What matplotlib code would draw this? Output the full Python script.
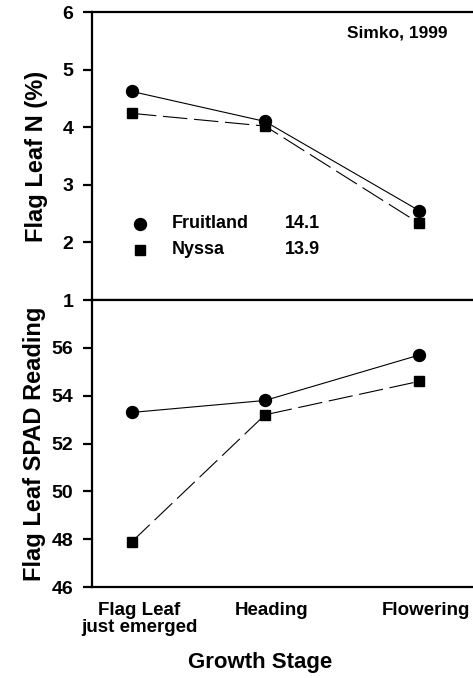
import matplotlib
matplotlib.use('Agg')
import matplotlib.pyplot as plt
import matplotlib.transforms as mtransforms

plt.rcParams['font.family'] = ['Liberation Sans', 'DejaVu Sans']
plt.rcParams['font.weight'] = 'bold'

stages = ['Flag Leaf\njust emerged', 'Heading', 'Flowering']
stage_pos = [1.0, 2.0, 3.16]

n_fruitland = [4.62, 4.10, 2.55]
n_nyssa = [4.24, 4.02, 2.33]
spad_fruitland = [53.3, 53.8, 55.7]
spad_nyssa = [47.9, 53.2, 54.6]

legend_names = ['Fruitland', 'Nyssa']
legend_values = ['14.1', '13.9']

fig = plt.figure(figsize=(4.73, 6.78), dpi=100)
ax_top = fig.add_axes([0.1945, 0.5575, 0.841, 0.4248])
ax_bot = fig.add_axes([0.1945, 0.1342, 0.841, 0.4233])

dash = (22, 6)
for ax in (ax_top, ax_bot):
    ax.set_xlim(0.699, 3.69)
    ax.spines['right'].set_visible(False)
    for s in ('left', 'top', 'bottom'):
        ax.spines[s].set_linewidth(1.6)
    ax.tick_params(axis='y', direction='out', length=6.5, width=1.6,
                   labelsize=14, pad=7)

ax_top.plot(stage_pos, n_fruitland, 'k-', lw=0.8, marker='o', ms=8.6)
ax_top.plot(stage_pos, n_nyssa, 'k', lw=0.8, dashes=dash, marker='s', ms=7.2)
ax_top.set_ylim(1, 6)
ax_top.set_yticks([1, 2, 3, 4, 5, 6])
ax_top.set_xticks([])
ax_top.set_ylabel('Flag Leaf N (%)', fontsize=17, fontweight='bold', labelpad=10)

ax_bot.plot(stage_pos, spad_fruitland, 'k-', lw=0.8, marker='o', ms=8.6)
ax_bot.plot(stage_pos, spad_nyssa, 'k', lw=0.8, dashes=dash, marker='s', ms=7.2)
ax_bot.set_ylim(46, 58)
ax_bot.set_yticks([46, 48, 50, 52, 54, 56])
ax_bot.set_xticks(stage_pos)
ax_bot.set_xticklabels(stages, fontsize=13.5, linespacing=0.95)
ax_bot.tick_params(axis='x', length=0, pad=11)
offset = mtransforms.ScaledTranslation(7 / 100, 0, fig.dpi_scale_trans)
for lab in ax_bot.get_xticklabels():
    lab.set_transform(lab.get_transform() + offset)
ax_bot.set_ylabel('Flag Leaf SPAD Reading', fontsize=17, fontweight='bold', labelpad=4)
ax_bot.set_xlabel('Growth Stage', fontsize=16, fontweight='bold')
ax_bot.xaxis.set_label_coords(0.422, -0.225)

# legend
for name, val, mk, ms, y in zip(legend_names, legend_values, ['o', 's'], [8.6, 7.2], [0.264, 0.174]):
    ax_top.plot([0.121], [y], color='k', marker=mk, ms=ms, ls='none',
                transform=ax_top.transAxes, clip_on=False)
    ax_top.text(0.201, y, name, transform=ax_top.transAxes, fontsize=13,
                fontweight='bold', va='center', ha='left')
    ax_top.text(0.485, y, val, transform=ax_top.transAxes, fontsize=13,
                fontweight='bold', va='center', ha='left')

ax_top.text(0.894, 0.927, 'Simko, 1999', transform=ax_top.transAxes, fontsize=12.5,
            fontweight='bold', ha='right', va='center')

fig.savefig('out.png', dpi=100)
